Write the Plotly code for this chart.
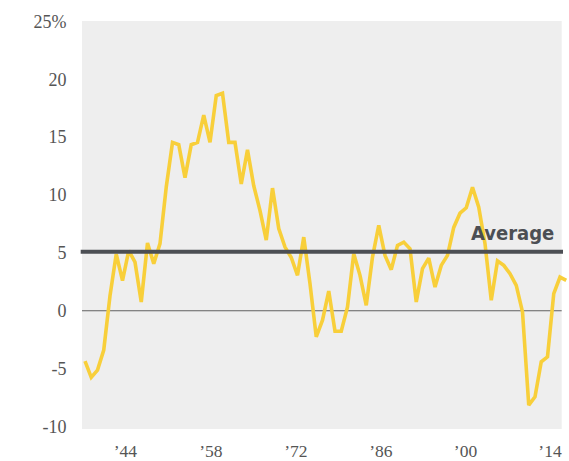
import plotly.graph_objects as go

# ---- data -------------------------------------------------------------
years = list(range(1937, 2015))
values = [
    -4.35, -5.76, -5.13, -3.4, 1.3, 4.9, 2.6, 5.2, 4.2, 0.76,
    5.85, 4.07, 5.8, 10.7, 14.55, 14.35, 11.5, 14.35, 14.55, 16.9,
    14.55, 18.6, 18.8, 14.55, 14.55, 10.95, 13.9, 10.8, 8.66, 6.1,
    10.6, 7.1, 5.5, 4.6, 3.06, 6.36, 2.34, -2.26, -0.82, 1.7,
    -1.77, -1.77, 0.33, 4.93, 3.06, 0.47, 4.64, 7.37, 4.78, 3.55,
    5.65, 5.93, 5.36, 0.76, 3.64, 4.55, 2.05, 3.92, 4.78, 7.2,
    8.43, 8.9, 10.67, 8.95, 5.8, 0.9, 4.3, 3.92, 3.2, 2.2,
    -0.1, -8.15, -7.43, -4.41, -3.98, 1.48, 2.91, 2.63,
]
average_value = 5.1
average_label = "Average"

x_tick_positions = [1943.45, 1957.13, 1970.73, 1984.33, 1997.88, 2011.4]
x_tick_labels = ["\u201944", "\u201958", "\u201972", "\u201986", "\u201900", "\u201914"]
y_tick_values = [-10, -5, 0, 5, 10, 15, 20, 25]
y_tick_labels = ["-10", "-5", "0", "5", "10", "15", "20", "25%"]

# ---- style ------------------------------------------------------------
YELLOW = "#f8cf3a"
DARK = "#4c4f54"
BG = "#eeeeee"
TICK_FONT = dict(family="Liberation Serif, DejaVu Serif, serif", size=18, color="#555555")
X_TICK_FONT = dict(family="Liberation Serif, DejaVu Serif, serif", size=17.5, color="#555555")

x_range = [1935.88, 2014.44]
y_range = [-10.22, 25.04]
bg_x0, bg_x1 = 1936.52, 2013.27

fig = go.Figure()
fig.add_trace(go.Scatter(
    x=years, y=values, mode="lines",
    line=dict(color=YELLOW, width=3.6),
    hoverinfo="x+y", showlegend=False,
))

# background panel
fig.add_shape(type="rect", xref="x", yref="paper", x0=bg_x0, x1=bg_x1, y0=0, y1=1,
              fillcolor=BG, line=dict(width=0), layer="below")
# zero line
fig.add_shape(type="line", xref="x", yref="y", x0=bg_x0, x1=bg_x1, y0=0, y1=0,
              line=dict(color="#606060", width=1.2), layer="below")
# average line
fig.add_shape(type="line", xref="x", yref="y", x0=1936.31, x1=2013.48,
              y0=average_value, y1=average_value,
              line=dict(color=DARK, width=4), layer="above")

fig.add_annotation(
    x=2012.4, y=6.75, xref="x", yref="y", xanchor="right", yanchor="middle",
    text=f"<b>{average_label}</b>", showarrow=False,
    font=dict(family="DejaVu Sans Condensed, sans-serif", size=20, color=DARK),
)

fig.update_layout(
    width=569, height=461,
    margin=dict(l=78, r=0, t=21, b=32),
    paper_bgcolor="white", plot_bgcolor="white",
    showlegend=False,
)
fig.update_xaxes(
    range=x_range, tickmode="array", tickvals=x_tick_positions, ticktext=x_tick_labels,
    showgrid=False, zeroline=False, showline=False,
    ticks="outside", ticklen=6, tickcolor="rgba(0,0,0,0)",
    tickfont=X_TICK_FONT, automargin=False, fixedrange=True,
)
fig.update_yaxes(
    range=y_range, tickmode="array", tickvals=y_tick_values, ticktext=y_tick_labels,
    showgrid=False, zeroline=False, showline=False,
    ticks="outside", ticklen=7, tickcolor="rgba(0,0,0,0)",
    tickfont=TICK_FONT, automargin=False, fixedrange=True,
)

fig.write_html(
    "out.html",
    config={"displayModeBar": False, "staticPlot": True},
    post_script="document.body.style.margin='0';document.body.style.overflow='hidden';",
)
